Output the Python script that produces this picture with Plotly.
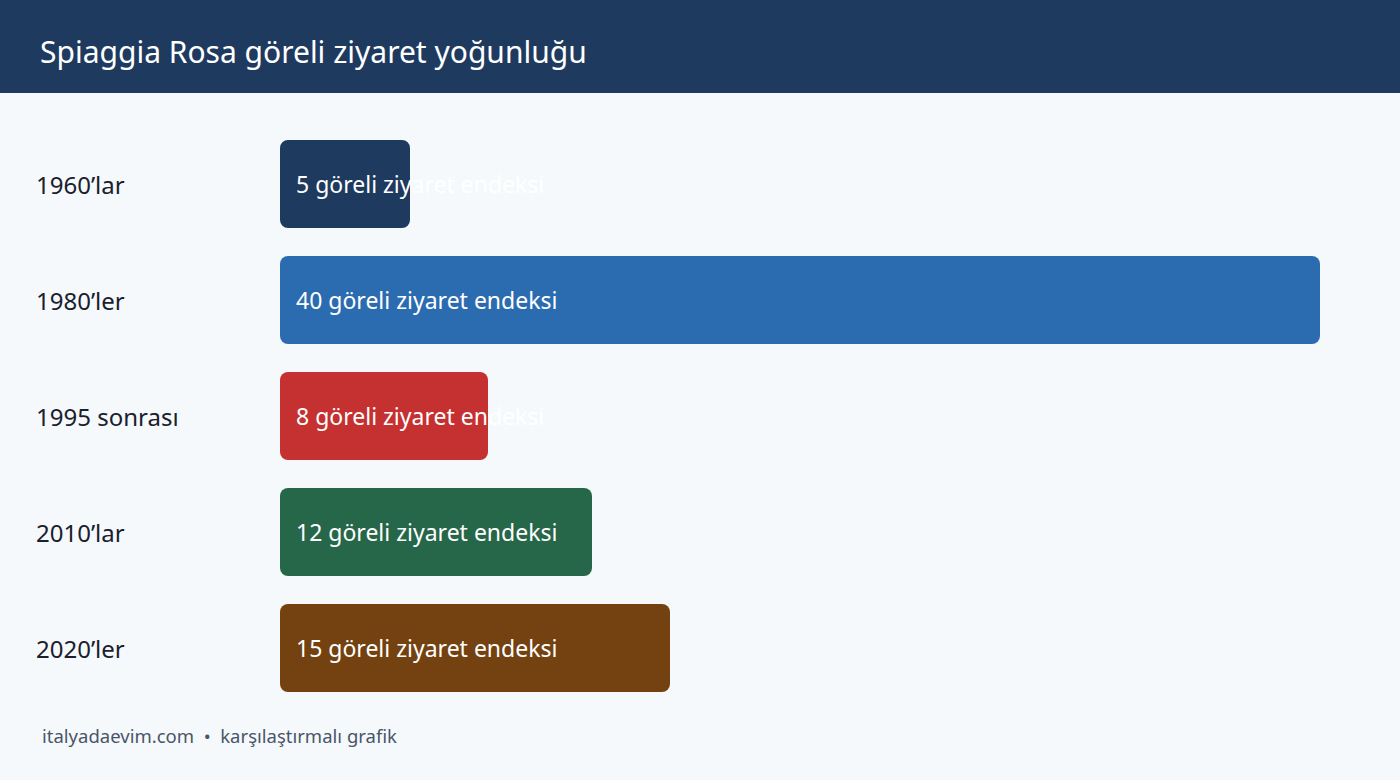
import plotly.graph_objects as go

# chart data
periods = ["1960’lar", "1980’ler", "1995 sonrası", "2010’lar", "2020’ler"]
visit_index = [5, 40, 8, 12, 15]
bar_colors = ["#1f3a5f", "#2b6cb0", "#c53030", "#276749", "#744210"]
value_suffix = "göreli ziyaret endeksi"

title_text = "Spiaggia Rosa göreli ziyaret yoğunluğu"
footer_text = "italyadaevim.com  •  karşılaştırmalı grafik"

FONT = "Noto Sans, Open Sans, sans-serif"

fig = go.Figure()
fig.add_trace(
    go.Bar(
        y=periods, x=visit_index, base=[0] * len(visit_index), orientation="h",
        marker=dict(color=bar_colors, cornerradius=8, line=dict(width=0)),
        hoverinfo="skip", showlegend=False,
    )
)

for p, v in zip(periods, visit_index):
    # value label, left aligned inside the bar (allowed to overflow)
    fig.add_annotation(
        x=0, y=p, xref="x", yref="y",
        text=f"{v} {value_suffix}",
        xanchor="left", yanchor="middle", xshift=14,
        showarrow=False,
        font=dict(family=FONT, size=23, color="#ffffff"),
    )
    # category label on the far left
    fig.add_annotation(
        x=-0.2365, y=p, xref="paper", yref="y",
        text=p,
        xanchor="left", yanchor="middle",
        showarrow=False,
        font=dict(family=FONT, size=24, color="#1a202c"),
    )

# footer
fig.add_annotation(
    x=-0.2308, y=-0.05, xref="paper", yref="paper",
    text=footer_text,
    xanchor="left", yanchor="middle",
    showarrow=False,
    font=dict(family=FONT, size=18.5, color="#4a5568"),
)

# header band
fig.add_shape(
    type="rect", xref="paper", yref="paper",
    x0=-0.3, x1=1.1, y0=1.0569, y1=1.25,
    fillcolor="#1f3a5f", line=dict(width=0), layer="below",
)

fig.update_layout(
    width=1400,
    height=780,
    margin=dict(l=280, r=80, t=126, b=74),
    paper_bgcolor="#f5f9fc",
    plot_bgcolor="#f5f9fc",
    bargap=0.241,
    title=dict(
        text=title_text,
        xref="container", yref="container",
        x=40 / 1400, y=1 - 52 / 780,
        xanchor="left", yanchor="middle",
        font=dict(family=FONT, size=30, color="#ffffff"),
    ),
    xaxis=dict(range=[0, 40], visible=False, fixedrange=True),
    yaxis=dict(autorange="reversed", showticklabels=False, showgrid=False,
               zeroline=False, fixedrange=True),
)

fig.write_html("out.html", config={"displayModeBar": False},
               post_script="document.body.style.margin='0';")
